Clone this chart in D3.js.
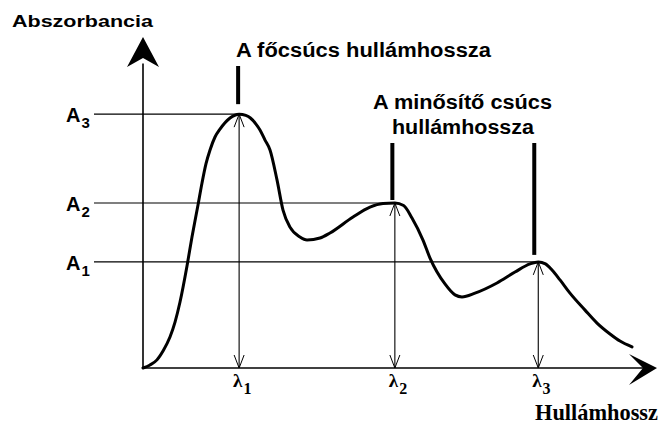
<!DOCTYPE html>
<html>
<head>
<meta charset="utf-8">
<script src="https://cdn.jsdelivr.net/npm/d3@7"></script>
<style>
  html, body { margin: 0; padding: 0; background: #fff; }
  svg { display: block; }
</style>
</head>
<body>
<svg id="chart" width="661" height="432"></svg>
<script>
// Spectrum sample: wavelength (arbitrary units) and absorbance
const wavelength = [0, 1.36, 2.72, 3.89, 5.25, 6.23, 7.2, 8.56, 9.53, 10.7, 11.48, 12.26, 13.04, 14.01, 14.98, 16.93, 18.7, 20.0, 20.9, 21.98, 22.76, 23.74, 24.71, 26.07, 27.24, 28.6, 30.54, 31.91, 34.44, 36.38, 40.86, 44.16, 46.69, 49.0, 50.7, 52.33, 54.47, 55.84, 58.75, 60.7, 62.06, 64.59, 68.87, 72.37, 75.29, 76.9, 78.3, 79.57, 81.13, 83.07, 86.0, 88.33, 90.86, 92.8, 95.14];
const absorbance = [0, 0.012, 0.032, 0.067, 0.122, 0.181, 0.26, 0.402, 0.516, 0.642, 0.729, 0.805, 0.859, 0.91, 0.941, 0.985, 1.0, 0.995, 0.985, 0.961, 0.938, 0.898, 0.859, 0.741, 0.622, 0.555, 0.516, 0.504, 0.512, 0.532, 0.595, 0.634, 0.648, 0.65, 0.64, 0.591, 0.504, 0.433, 0.331, 0.288, 0.28, 0.295, 0.335, 0.378, 0.41, 0.418, 0.41, 0.386, 0.347, 0.295, 0.228, 0.177, 0.134, 0.106, 0.083];

// Reference levels and peak positions
const peakLabels = ["1", "2", "3"];
const peakWavelength = [18.7, 49.0, 76.9];
const levelLabels = ["1", "2", "3"];
const levelAbsorbance = [0.418, 0.65, 1.0];   // A1 (at λ3), A2 (at λ2), A3 (at λ1)

const axisTitleY = "Abszorbancia";
const axisTitleX = "Hullámhossz";
const mainPeakTitle = "A főcsúcs hullámhossza";
const qualifierTitle = ["A minősítő csúcs", "hullámhossza"];

const svg = d3.select("#chart");
const x = d3.scaleLinear().domain([0, 100]).range([143, 657]);
const y = d3.scaleLinear().domain([0, 1.3]).range([368, 38]);

const ink = "#000";
const sans = "'Liberation Sans', Arial, Helvetica, sans-serif";
const serif = "'Liberation Serif', 'Times New Roman', serif";

// Guide lines from the level labels to the peaks, with drop arrows to the axis
const guides = [
  { level: levelAbsorbance[2], at: peakWavelength[0], label: levelLabels[2] },
  { level: levelAbsorbance[1], at: peakWavelength[1], label: levelLabels[1] },
  { level: levelAbsorbance[0], at: peakWavelength[2], label: levelLabels[0] }
];
const gGuide = svg.append("g");
const head = d3.line();
guides.forEach(d => {
  gGuide.append("line")
    .attr("x1", 94).attr("x2", x(d.at))
    .attr("y1", y(d.level)).attr("y2", y(d.level))
    .attr("stroke", ink).attr("stroke-width", 1.2);
  const t = gGuide.append("text")
    .attr("x", 66).attr("y", y(d.level) + 8)
    .attr("font-family", sans).attr("font-weight", "bold")
    .attr("font-size", 20).attr("fill", ink);
  t.append("tspan").text("A");
  t.append("tspan").attr("font-size", 15).attr("dx", 1).attr("dy", 6).text(d.label);

  const px = x(d.at), top = y(d.level), bottom = y(0);
  gGuide.append("line")
    .attr("x1", px).attr("x2", px).attr("y1", top).attr("y2", bottom)
    .attr("stroke", ink).attr("stroke-width", 1.1);
  gGuide.append("path")
    .attr("d", head([[px - 5, top + 13], [px, top], [px + 5, top + 13]]))
    .attr("fill", "none").attr("stroke", ink).attr("stroke-width", 1);
  gGuide.append("path")
    .attr("d", head([[px - 5, bottom - 13], [px, bottom], [px + 5, bottom - 13]]))
    .attr("fill", "none").attr("stroke", ink).attr("stroke-width", 1);
});

// Axes
const gAxis = svg.append("g");
gAxis.append("line")
  .attr("x1", x(0)).attr("x2", x(0)).attr("y1", y(0)).attr("y2", y(1.2))
  .attr("stroke", ink).attr("stroke-width", 1.6);
gAxis.append("line")
  .attr("x1", x(0)).attr("x2", x(97.5)).attr("y1", y(0)).attr("y2", y(0))
  .attr("stroke", ink).attr("stroke-width", 1.6);

// Filled arrowheads at the axis ends
const x0 = x(0);
gAxis.append("path")
  .attr("d", d3.line()([[x0, 37], [x0 + 16, 67], [x0, 58], [x0 - 16, 67]]) + "Z")
  .attr("fill", ink);
const xEnd = x(100), y0 = y(0);
gAxis.append("path")
  .attr("d", d3.line()([[xEnd, y0], [xEnd - 28, y0 + 17], [xEnd - 14, y0], [xEnd - 28, y0 - 14]]) + "Z")
  .attr("fill", ink);

// Spectrum curve
const spectrum = d3.zip(wavelength, absorbance);
svg.append("path")
  .datum(spectrum)
  .attr("d", d3.line().x(d => x(d[0])).y(d => y(d[1])).curve(d3.curveMonotoneX))
  .attr("fill", "none").attr("stroke", ink).attr("stroke-width", 3)
  .attr("stroke-linecap", "round").attr("stroke-linejoin", "round");

// Thick marker bars above the peaks
const markers = [
  { at: peakWavelength[0], dx: -1, y1: 66, y2: y(levelAbsorbance[2]) - 10 },
  { at: peakWavelength[1], dx: -2.5, y1: 143, y2: y(levelAbsorbance[1]) - 3 },
  { at: peakWavelength[2], dx: -4, y1: 143, y2: y(levelAbsorbance[0]) - 7 }
];
markers.forEach(m => {
  svg.append("line")
    .attr("x1", x(m.at) + m.dx).attr("x2", x(m.at) + m.dx)
    .attr("y1", m.y1).attr("y2", m.y2)
    .attr("stroke", ink).attr("stroke-width", 4);
});

// Wavelength labels
peakWavelength.forEach((w, i) => {
  const t = svg.append("text")
    .attr("x", x(w) - 6).attr("y", 387)
    .attr("font-family", serif).attr("font-weight", "bold")
    .attr("font-size", 19).attr("fill", ink);
  t.append("tspan").text("λ");
  t.append("tspan").attr("font-size", 16).attr("dx", 1).attr("dy", 7).text(peakLabels[i]);
});

// Titles
svg.append("text")
  .attr("x", 12).attr("y", 27)
  .attr("font-family", sans).attr("font-weight", "bold").attr("font-size", 17)
  .attr("textLength", 141).attr("lengthAdjust", "spacingAndGlyphs")
  .attr("fill", ink).text(axisTitleY);

svg.append("text")
  .attr("x", 236).attr("y", 57)
  .attr("font-family", sans).attr("font-weight", "bold").attr("font-size", 20)
  .attr("textLength", 255).attr("lengthAdjust", "spacingAndGlyphs")
  .attr("fill", ink).text(mainPeakTitle);

svg.append("text")
  .attr("x", 373).attr("y", 109)
  .attr("font-family", sans).attr("font-weight", "bold").attr("font-size", 20)
  .attr("textLength", 179).attr("lengthAdjust", "spacingAndGlyphs")
  .attr("fill", ink).text(qualifierTitle[0]);
svg.append("text")
  .attr("x", 392).attr("y", 134)
  .attr("font-family", sans).attr("font-weight", "bold").attr("font-size", 20)
  .attr("textLength", 142).attr("lengthAdjust", "spacingAndGlyphs")
  .attr("fill", ink).text(qualifierTitle[1]);

svg.append("text")
  .attr("x", 535).attr("y", 420)
  .attr("font-family", serif).attr("font-weight", "bold").attr("font-size", 23)
  .attr("textLength", 123).attr("lengthAdjust", "spacingAndGlyphs")
  .attr("fill", ink).text(axisTitleX);
</script>
</body>
</html>
